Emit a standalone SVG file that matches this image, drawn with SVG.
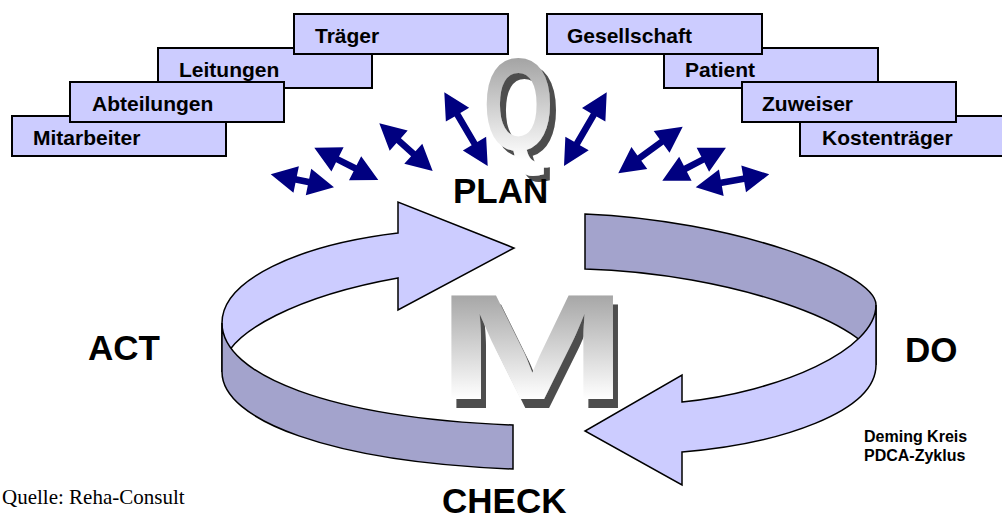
<svg xmlns="http://www.w3.org/2000/svg" width="1002" height="515" viewBox="0 0 1002 515">
<style>
.box{fill:#CCCCFF;stroke:#000;stroke-width:2}
.bt{font-family:"Liberation Sans",Arial,sans-serif;font-weight:bold;font-size:21px;fill:#000}
.big{font-family:"Liberation Sans",Arial,sans-serif;font-weight:bold;font-size:35px;fill:#000}
.sm{font-family:"Liberation Sans",Arial,sans-serif;font-weight:bold;font-size:16px;fill:#000}
.arr{fill:#000080}
.lt{fill:#CCCCFF;stroke:#000;stroke-width:1.5;stroke-linejoin:miter}
.dk{fill:#A3A3CC;stroke:#000;stroke-width:1.5}
.letter{font-family:"Liberation Sans",Arial,sans-serif;font-weight:bold}
</style>
<defs>
<linearGradient id="gM" gradientUnits="userSpaceOnUse" x1="0" y1="291" x2="0" y2="399">
<stop offset="0" stop-color="#A3A3A3"/><stop offset="1" stop-color="#FFFFFF"/>
</linearGradient>
<linearGradient id="gQ" gradientUnits="userSpaceOnUse" x1="0" y1="54" x2="0" y2="160">
<stop offset="0" stop-color="#A0A0A0"/><stop offset="1" stop-color="#FFFFFF"/>
</linearGradient>
<filter id="shM" x="-10%" y="-10%" width="130%" height="130%">
<feOffset in="SourceAlpha" dx="3.3" dy="9" result="o"/>
<feFlood flood-color="#4D4D4D"/>
<feComposite in2="o" operator="in" result="s"/>
<feMerge><feMergeNode in="s"/><feMergeNode in="SourceGraphic"/></feMerge>
</filter>
<filter id="shQ" x="-10%" y="-10%" width="140%" height="130%">
<feOffset in="SourceAlpha" dx="8.5" dy="6" result="o"/>
<feFlood flood-color="#4D4D4D"/>
<feComposite in2="o" operator="in" result="s"/>
<feMerge><feMergeNode in="s"/><feMergeNode in="SourceGraphic"/></feMerge>
</filter>
</defs>
<rect width="1002" height="515" fill="#fff"/>

<g id="mitarbeiter"><rect class="box" x="12" y="116" width="214" height="40"/><text class="bt" x="33" y="145">Mitarbeiter</text></g>
<g id="leitungen"><rect class="box" x="158" y="48" width="214" height="40"/><text class="bt" x="179" y="77">Leitungen</text></g>
<g id="abteilungen"><rect class="box" x="70" y="82" width="214" height="40"/><text class="bt" x="92" y="111">Abteilungen</text></g>
<g id="traeger"><rect class="box" x="294" y="14" width="214" height="40"/><text class="bt" x="315" y="43">Träger</text></g>

<g id="kostentraeger"><rect class="box" x="800" y="116" width="214" height="40"/><text class="bt" x="822" y="145">Kostenträger</text></g>
<g id="patient"><rect class="box" x="664" y="48" width="214" height="40"/><text class="bt" x="685" y="77">Patient</text></g>
<g id="zuweiser"><rect class="box" x="742" y="82" width="214" height="40"/><text class="bt" x="762" y="111">Zuweiser</text></g>
<g id="gesellschaft"><rect class="box" x="547" y="14" width="215" height="40"/><text class="bt" x="567" y="43">Gesellschaft</text></g>

<g id="q-letter" class="letter" font-size="132">
<text x="0" y="150" transform="translate(483,0) scale(0.69,1)" fill="url(#gQ)" filter="url(#shQ)">Q</text>
</g>

<g id="connectors">
<polygon class="arr" transform="translate(270.7,174.3) rotate(11.6)" points="0,0 26,-13.5 26,-3.3 38.6,-3.3 38.6,-13.5 64.6,0 38.6,13.5 38.6,3.3 26,3.3 26,13.5"/>
<polygon class="arr" transform="translate(314.3,147.7) rotate(26.8)" points="0,0 26,-13.5 26,-3.3 45.7,-3.3 45.7,-13.5 71.7,0 45.7,13.5 45.7,3.3 26,3.3 26,13.5"/>
<polygon class="arr" transform="translate(379.3,123.3) rotate(41.8)" points="0,0 26,-13.5 26,-3.3 45.6,-3.3 45.6,-13.5 71.6,0 45.6,13.5 45.6,3.3 26,3.3 26,13.5"/>
<polygon class="arr" transform="translate(444.3,92.3) rotate(59.5)" points="0,0 26,-13.5 26,-3.3 59.5,-3.3 59.5,-13.5 85.5,0 59.5,13.5 59.5,3.3 26,3.3 26,13.5"/>
<polygon class="arr" transform="translate(564,166) rotate(-59.9)" points="0,0 26,-13.5 26,-3.3 59.2,-3.3 59.2,-13.5 85.2,0 59.2,13.5 59.2,3.3 26,3.3 26,13.5"/>
<polygon class="arr" transform="translate(618.3,173.3) rotate(-35.9)" points="0,0 26,-13.5 26,-3.3 53.5,-3.3 53.5,-13.5 79.5,0 53.5,13.5 53.5,3.3 26,3.3 26,13.5"/>
<polygon class="arr" transform="translate(662.3,180.7) rotate(-27.4)" points="0,0 26,-13.5 26,-3.3 45.7,-3.3 45.7,-13.5 71.7,0 45.7,13.5 45.7,3.3 26,3.3 26,13.5"/>
<polygon class="arr" transform="translate(695.7,187.3) rotate(-10)" points="0,0 26,-13.5 26,-3.3 48.7,-3.3 48.7,-13.5 74.7,0 48.7,13.5 48.7,3.3 26,3.3 26,13.5"/>
</g>

<g id="cycle-left">
<path class="lt" d="M398,233 L398,202 L514,248 L398,310 L398,278 C308,294 222,330 222,372 L222,323 C222,280 298,245 398,233 Z"/>
<path class="dk" d="M222,323 C222,375 330,418 513,425 L513,469 C330,462 222,420 222,372 Z"/>
</g>

<g id="cycle-right">
<path class="dk" d="M585,214 C730,220 876,272 876,305 L876,365 C876,325 730,273 585,269 Z"/>
<path class="lt" d="M876,305 C876,350 780,392 682,402 L682,375 L585,431 L682,485 L682,452 C780,444 876,412 876,365 Z"/>
</g>

<g id="m-letter" class="letter" font-size="151">
<text x="0" y="399" transform="translate(436,0) scale(1.53,1)" fill="url(#gM)" filter="url(#shM)">M</text>
</g>

<g id="plan"><text class="big" x="453" y="203">PLAN</text></g>
<g id="do"><text class="big" x="905" y="362">DO</text></g>
<g id="check"><text class="big" x="442" y="513">CHECK</text></g>
<g id="act"><text class="big" x="88" y="360">ACT</text></g>
<g id="caption"><text class="sm" x="864" y="442">Deming Kreis</text><text class="sm" x="864" y="461">PDCA-Zyklus</text></g>
<g id="source"><text x="2" y="504" font-family="'Liberation Serif','Times New Roman',serif" font-size="21" fill="#000">Quelle: Reha-Consult</text></g>
</svg>
